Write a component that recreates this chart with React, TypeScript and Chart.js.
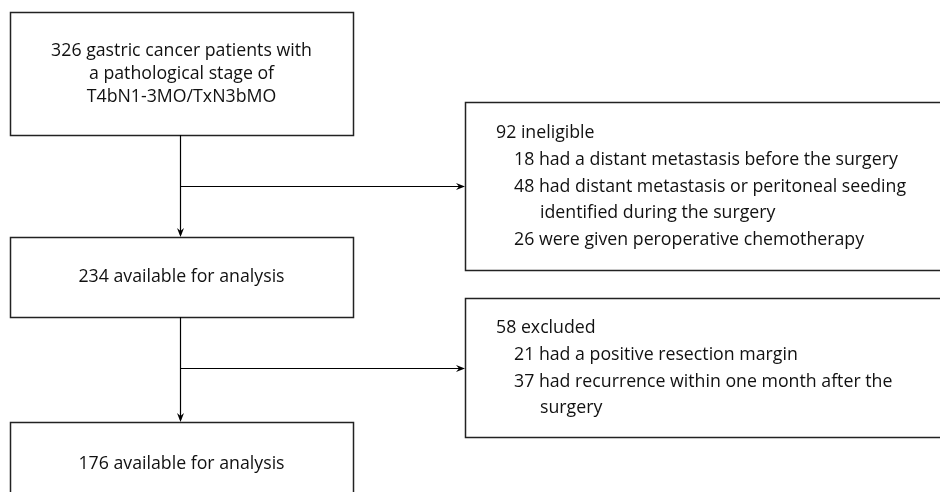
import React, { useEffect, useRef } from "react";
import { Chart, registerables } from "chart.js";

Chart.register(...registerables);

// ---- Content (texts) ----
const mainBoxTexts: string[][] = [
  ["326 gastric cancer patients with", "a pathological stage of", "T4bN1-3MO/TxN3bMO"],
  ["234 available for analysis"],
  ["176 available for analysis"],
];
const sideBoxTexts: string[][] = [
  [
    "92 ineligible",
    "18 had a distant metastasis before the surgery",
    "48 had distant metastasis or peritoneal seeding",
    "identified during the surgery",
    "26 were given peroperative chemotherapy",
  ],
  [
    "58 excluded",
    "21 had a positive resection margin",
    "37 had recurrence within one month after the",
    "surgery",
  ],
];
const sideBoxIndent: number[][] = [
  [0, 1, 1, 2, 1],
  [0, 1, 1, 2],
];

// ---- Layout in scale units (x: 0..940, y: 0..492 top-down) ----
const mainBoxX = [10, 353];
const mainBoxY: number[][] = [
  [12, 135],
  [237, 317],
  [422, 506],
];
const mainTextY: number[][] = [[51, 74, 97], [277], [464]];
const sideBoxX = [465, 960];
const sideBoxY: number[][] = [
  [102, 270],
  [298, 437],
];
const sideTextY: number[][] = [
  [133, 160, 187, 213, 240],
  [328, 355, 382, 408],
];
const indentX = [496, 514, 540];
const trunkX = 180;
const branchY = [185.6, 368];

const FONT_FAMILY = '"Open Sans", "DejaVu Sans", sans-serif';
const FIT_TEXT = "18 had a distant metastasis before the surgery";
const FIT_WIDTH = 384;

const flowPlugin = {
  id: "flow",
  afterDraw(chart: any) {
    const ctx = chart.ctx as CanvasRenderingContext2D;
    const xs = chart.scales.x;
    const ys = chart.scales.y;
    const px = (v: number) => xs.getPixelForValue(v);
    const py = (v: number) => ys.getPixelForValue(v);
    ctx.save();

    const rect = (x0: number, x1: number, y0: number, y1: number) => {
      ctx.strokeStyle = "#222";
      ctx.lineWidth = 1.5;
      ctx.strokeRect(Math.round(px(x0)) + 0.5, Math.round(py(y0)) + 0.5, px(x1) - px(x0), py(y1) - py(y0));
    };
    const arrowHead = (x: number, y: number, dir: "down" | "right") => {
      ctx.fillStyle = "#000";
      ctx.beginPath();
      if (dir === "down") {
        ctx.moveTo(x, y);
        ctx.lineTo(x - 3.5, y - 9);
        ctx.lineTo(x, y - 6);
        ctx.lineTo(x + 3.5, y - 9);
      } else {
        ctx.moveTo(x, y);
        ctx.lineTo(x - 9, y - 3.5);
        ctx.lineTo(x - 6, y);
        ctx.lineTo(x - 9, y + 3.5);
      }
      ctx.closePath();
      ctx.fill();
    };
    const line = (x0: number, y0: number, x1: number, y1: number) => {
      ctx.strokeStyle = "#000";
      ctx.lineWidth = 1.2;
      ctx.beginPath();
      ctx.moveTo(x0, y0);
      ctx.lineTo(x1, y1);
      ctx.stroke();
    };

    // boxes
    mainBoxY.forEach(([y0, y1]) => rect(mainBoxX[0], mainBoxX[1], y0, y1));
    sideBoxY.forEach(([y0, y1]) => rect(sideBoxX[0], sideBoxX[1], y0, y1));

    // connectors
    const tx = Math.round(px(trunkX)) + 0.5;
    for (let i = 0; i < mainBoxY.length - 1; i++) {
      const yA = py(mainBoxY[i][1]);
      const yB = py(mainBoxY[i + 1][0]);
      line(tx, yA, tx, yB - 2);
      arrowHead(tx, yB, "down");
      const by = Math.round(py(branchY[i])) + 0.5;
      const bx = px(sideBoxX[0]);
      line(tx, by, bx - 2, by);
      arrowHead(bx, by, "right");
    }

    // texts: fit font size to reference text width
    ctx.font = `20px ${FONT_FAMILY}`;
    const w20 = ctx.measureText(FIT_TEXT).width || FIT_WIDTH;
    const size = Math.min(19, (20 * FIT_WIDTH) / w20);
    ctx.font = `${size.toFixed(2)}px ${FONT_FAMILY}`;
    ctx.fillStyle = "#111";
    ctx.textBaseline = "middle";
    ctx.textAlign = "center";
    const cx = px((mainBoxX[0] + mainBoxX[1]) / 2);
    mainBoxTexts.forEach((lines, i) => {
      lines.forEach((t, j) => ctx.fillText(t, cx, py(mainTextY[i][j])));
    });
    ctx.textAlign = "left";
    sideBoxTexts.forEach((lines, i) => {
      lines.forEach((t, j) => ctx.fillText(t, px(indentX[sideBoxIndent[i][j]]), py(sideTextY[i][j])));
    });
    ctx.restore();
  },
};

export default function App() {
  const ref = useRef<HTMLCanvasElement | null>(null);
  useEffect(() => {
    if (!ref.current) return;
    const chart = new Chart(ref.current, {
      type: "scatter",
      data: { datasets: [{ data: [], pointRadius: 0 }] },
      options: {
        animation: false,
        responsive: false,
        maintainAspectRatio: false,
        layout: { padding: 0 },
        plugins: { legend: { display: false }, tooltip: { enabled: false } },
        scales: {
          x: { type: "linear", min: 0, max: 940, display: false },
          y: { type: "linear", min: 0, max: 492, reverse: true, display: false },
        },
      },
      plugins: [flowPlugin],
    });
    return () => chart.destroy();
  }, []);
  return (
    <div style={{ position: "fixed", left: 0, top: 0, width: 940, height: 492, background: "#fff" }}>
      <canvas ref={ref} width={940} height={492} />
    </div>
  );
}
